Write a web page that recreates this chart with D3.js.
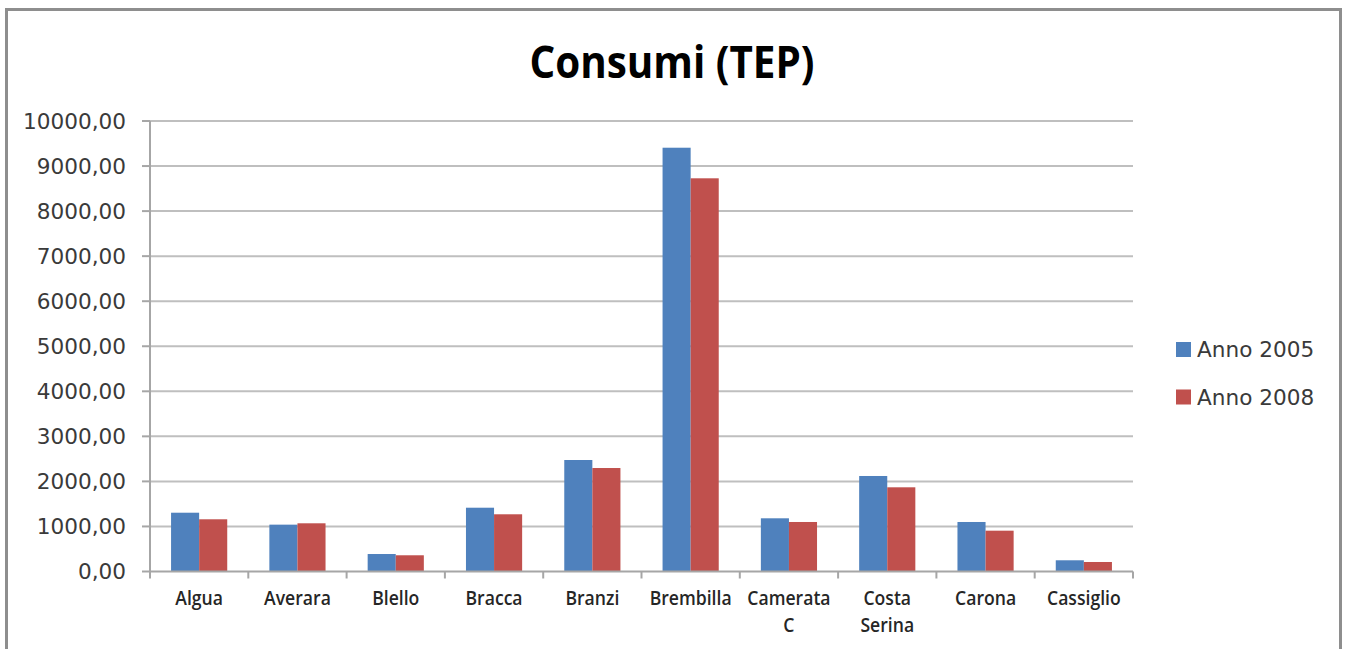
<!DOCTYPE html>
<html lang="it">
<head>
    <meta charset="UTF-8">
    <title>Consumi (TEP)</title>
    <script src="https://d3js.org/d3.v7.min.js"></script>
    <style>
        body { margin: 0; background: #fff; }
        svg { display: block; }
        .tick-y text, .legend text {
            font-family: 'DejaVu Sans', sans-serif;
            font-size: 21.6px;
            fill: #3a3a3a;
        }
        .tick-x text {
            font-family: 'Open Sans', sans-serif;
            font-weight: 600;
            font-size: 20px;
            fill: #262626;
        }
        .title {
            font-family: 'Open Sans', 'DejaVu Sans', sans-serif;
            font-weight: bold;
            font-size: 44px;
            fill: #000;
        }
    </style>
</head>
<body>
<script>

    const width = 1347;
    const height = 649;

    const comuni = [['Algua'], ['Averara'], ['Blello'], ['Bracca'], ['Branzi'], ['Brembilla'],
                    ['Camerata', 'C'], ['Costa', 'Serina'], ['Carona'], ['Cassiglio']];
    const series = ['Anno 2005', 'Anno 2008'];
    const anno2005 = [1305, 1040, 388, 1416, 2475, 9407, 1181, 2120, 1099, 249];
    const anno2008 = [1159, 1070, 360, 1270, 2297, 8728, 1099, 1869, 906, 211];
    const yTicks = [0, 1000, 2000, 3000, 4000, 5000, 6000, 7000, 8000, 9000, 10000];
    const colors = ['#4f81bd', '#c0504d'];

    const plot = {left: 150, right: 1133, top: 121, bottom: 571.5};

    const it = d3.formatLocale({decimal: ',', thousands: '', grouping: [3], currency: ['', '€']});
    const fmt = it.format('.2f');

    const svg = d3.select('body').append('svg').attr('width', width).attr('height', height);

    // cornice grigia del grafico
    svg.append('path')
        .attr('d', `M6.5,${height} V9.5 H1340.5 V${height}`)
        .attr('fill', 'none')
        .attr('stroke', '#8e8e8e')
        .attr('stroke-width', 3);

    svg.append('text').attr('class', 'title')
        .attr('x', 672).attr('y', 78)
        .attr('text-anchor', 'middle')
        .attr('textLength', 285).attr('lengthAdjust', 'spacingAndGlyphs')
        .text('Consumi (TEP)');

    const x = d3.scaleBand()
        .domain(d3.range(comuni.length))
        .range([plot.left, plot.right]);
    const x1 = d3.scaleBand()
        .domain(d3.range(series.length))
        .range([0, x.bandwidth()])
        .paddingInner(0)
        .paddingOuter(0.75);
    const y = d3.scaleLinear().domain([0, 10000]).range([plot.bottom, plot.top]);

    // griglia orizzontale
    svg.append('g').selectAll('line')
        .data(yTicks.slice(1))
        .join('line')
        .attr('x1', plot.left).attr('x2', plot.right)
        .attr('y1', d => y(d)).attr('y2', d => y(d))
        .attr('stroke', '#bfbfbf').attr('stroke-width', 2);

    // barre
    const values = [anno2005, anno2008];
    svg.append('g').selectAll('g')
        .data(comuni.map((c, i) => i))
        .join('g')
        .attr('transform', i => `translate(${x(i)},0)`)
        .selectAll('rect')
        .data(i => values.map((v, s) => ({s, v: v[i]})))
        .join('rect')
        .attr('x', d => x1(d.s))
        .attr('width', x1.bandwidth())
        .attr('y', d => y(d.v))
        .attr('height', d => y(0) - y(d.v))
        .attr('fill', d => colors[d.s]);

    // asse y
    const gy = svg.append('g').attr('class', 'tick-y');
    gy.append('line')
        .attr('x1', plot.left).attr('x2', plot.left)
        .attr('y1', plot.top).attr('y2', plot.bottom)
        .attr('stroke', '#a6a6a6').attr('stroke-width', 2);
    gy.selectAll('line.t')
        .data(yTicks).join('line').attr('class', 't')
        .attr('x1', plot.left - 8).attr('x2', plot.left)
        .attr('y1', d => y(d)).attr('y2', d => y(d))
        .attr('stroke', '#a6a6a6').attr('stroke-width', 2);
    gy.selectAll('text')
        .data(yTicks).join('text')
        .attr('x', 126).attr('y', d => y(d))
        .attr('dy', '0.36em')
        .attr('text-anchor', 'end')
        .text(d => fmt(d));

    // asse x
    const gx = svg.append('g').attr('class', 'tick-x');
    gx.append('line')
        .attr('x1', plot.left).attr('x2', plot.right)
        .attr('y1', plot.bottom).attr('y2', plot.bottom)
        .attr('stroke', '#a6a6a6').attr('stroke-width', 2);
    gx.selectAll('line.t')
        .data(d3.range(comuni.length + 1)).join('line').attr('class', 't')
        .attr('x1', i => plot.left + i * x.step()).attr('x2', i => plot.left + i * x.step())
        .attr('y1', plot.bottom).attr('y2', plot.bottom + 7)
        .attr('stroke', '#a6a6a6').attr('stroke-width', 2);
    // etichette strette (tipo Calibri): compressione orizzontale
    gx.selectAll('text')
        .data(comuni).join('text')
        .attr('transform', (d, i) => `translate(${x(i) + x.bandwidth() / 2},605) scale(0.88,1)`)
        .attr('text-anchor', 'middle')
        .selectAll('tspan')
        .data(d => d).join('tspan')
        .attr('x', 0)
        .attr('dy', (d, j) => j === 0 ? 0 : 27)
        .text(d => d);

    // legenda
    const legend = svg.append('g').attr('class', 'legend');
    const ly = d3.scalePoint().domain(series).range([349.5, 397]);
    legend.selectAll('rect')
        .data(series).join('rect')
        .attr('x', 1176).attr('y', d => ly(d) - 7.5)
        .attr('width', 15).attr('height', 15)
        .attr('fill', (d, i) => colors[i]);
    legend.selectAll('text')
        .data(series).join('text')
        .attr('x', 1197).attr('y', d => ly(d))
        .attr('dy', '0.36em')
        .text(d => d);

</script>
</body>
</html>
